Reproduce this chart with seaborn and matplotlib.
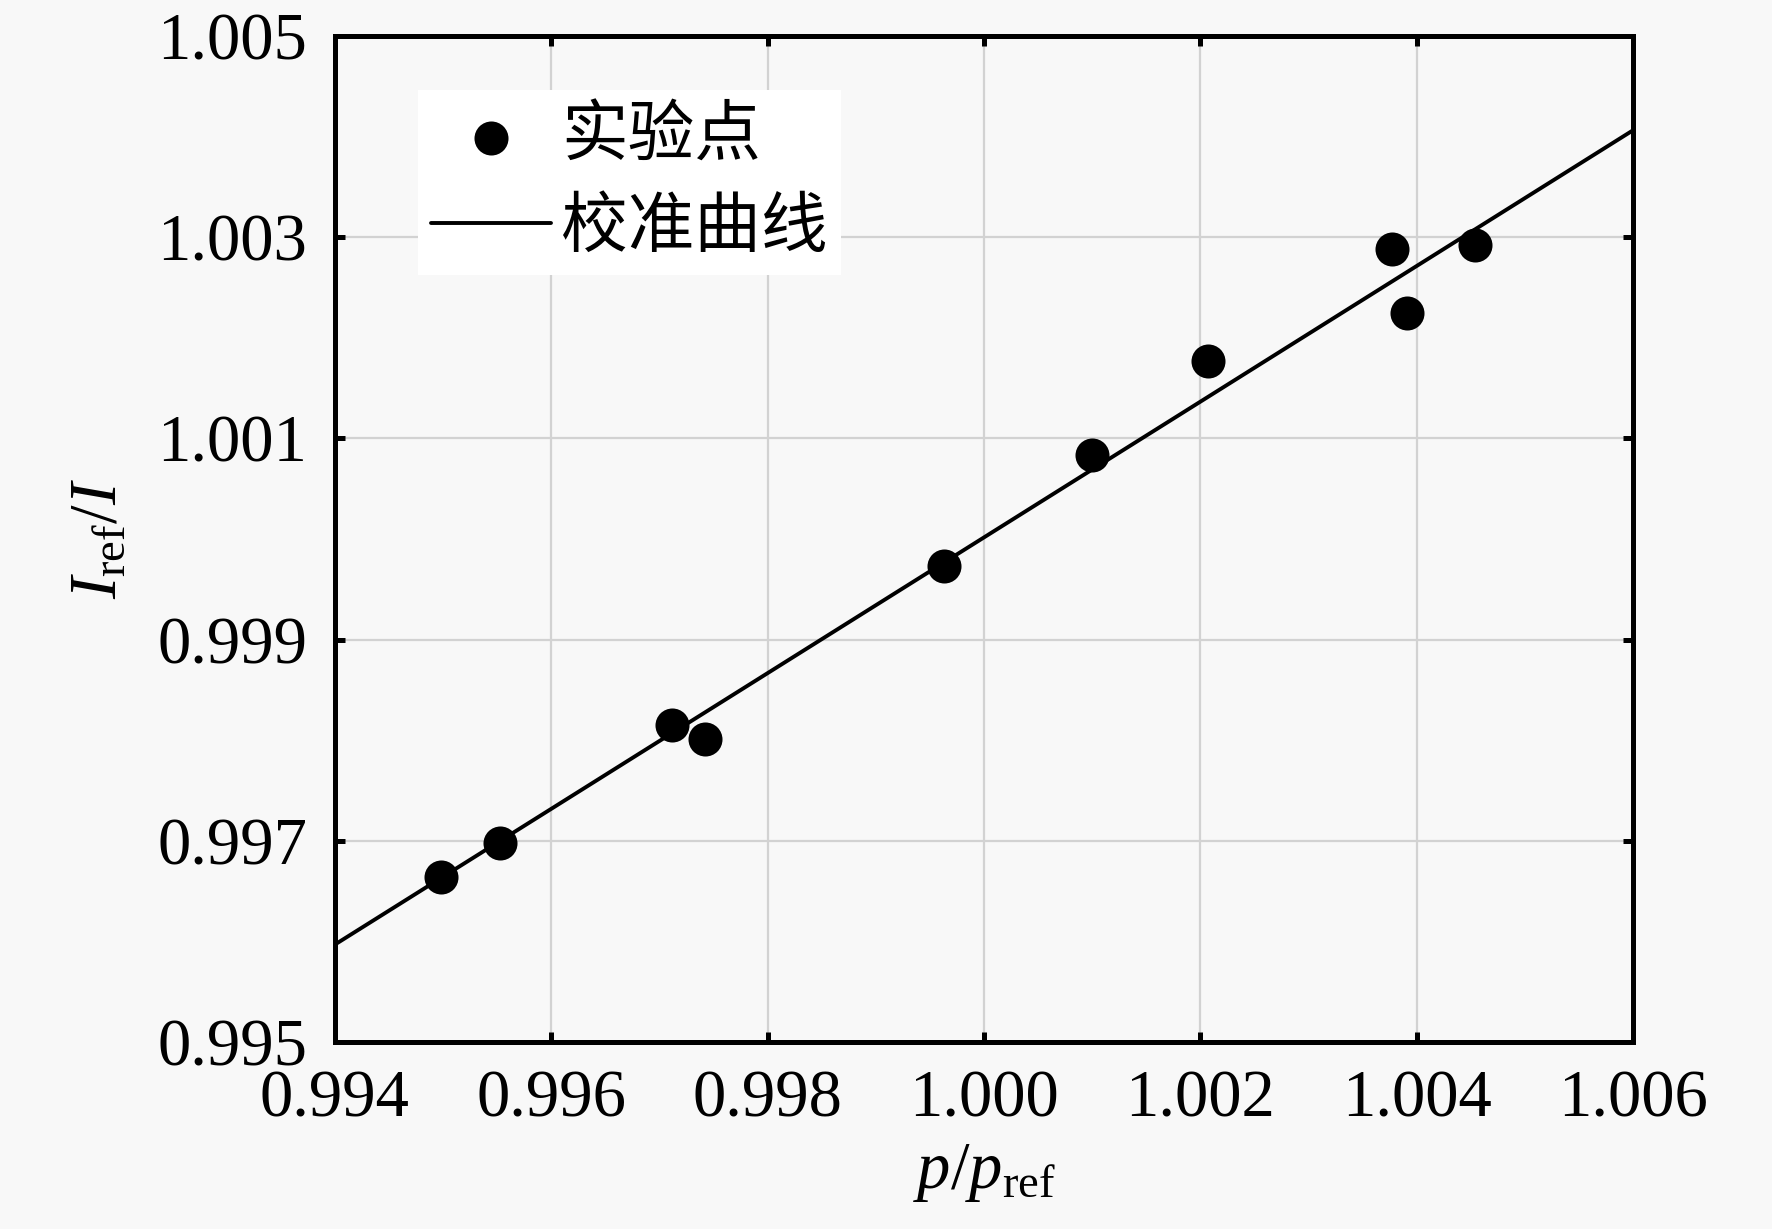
import numpy as np
import pandas as pd
import matplotlib
matplotlib.use("Agg")
import matplotlib.pyplot as plt
import seaborn as sns

# Calibration of I_ref/I against p/p_ref: measured points and fitted line.
p_ratio = [0.99498, 0.99553, 0.99712, 0.99742, 0.99963,
           1.00100, 1.00207, 1.00377, 1.00391, 1.00454]
i_ratio = [0.99664, 0.99698, 0.99815, 0.99801, 0.99973,
           1.00083, 1.00177, 1.00288, 1.00224, 1.00292]

fit_x = [0.994, 1.006]
fit_y = [0.99597, 1.00406]

x_ticks = [0.994, 0.996, 0.998, 1.000, 1.002, 1.004, 1.006]
y_ticks = [0.995, 0.997, 0.999, 1.001, 1.003, 1.005]

pts = pd.DataFrame({"p": p_ratio, "I": i_ratio})
fit = pd.DataFrame({"p": fit_x, "I": fit_y})

sns.set_style("whitegrid")
bg = "#f8f8f8"
plt.rcParams["font.family"] = ["Liberation Serif", "Noto Sans CJK SC", "DejaVu Sans"]
plt.rcParams["mathtext.fontset"] = "custom"
plt.rcParams["mathtext.rm"] = "Liberation Serif"
plt.rcParams["mathtext.it"] = "Liberation Serif:italic"
for k in ["text.color", "axes.labelcolor", "xtick.color", "ytick.color"]:
    plt.rcParams[k] = "black"

fig = plt.figure(figsize=(8.86, 6.145), dpi=200, facecolor=bg)
ax = fig.add_axes([0.189, 0.152, 0.7326, 0.819])
ax.set_facecolor(bg)

sns.lineplot(data=fit, x="p", y="I", color="black", linewidth=1.4,
             label="校准曲线", ax=ax)
sns.scatterplot(data=pts, x="p", y="I", color="black", s=150,
                edgecolor="black", linewidth=0, label="实验点", ax=ax, zorder=3)

ax.set_xlim(0.994, 1.006)
ax.set_ylim(0.995, 1.005)
ax.set_xticks(x_ticks)
ax.set_yticks(y_ticks)
ax.set_xticklabels([f"{v:.3f}" for v in x_ticks])
ax.set_yticklabels([f"{v:.3f}" for v in y_ticks])
ax.tick_params(direction="in", length=3.6, width=1.8, labelsize=24,
               top=True, right=True, bottom=True, left=True, pad=10)
ax.grid(True, color="#d2d2d2", linewidth=0.8)
for s in ax.spines.values():
    s.set_color("black")
    s.set_linewidth(1.8)

ax.set_xlabel(r"$p/p_{\mathrm{ref}}$", fontsize=24, labelpad=4)
ax.set_ylabel(r"$I_{\mathrm{ref}}/I$", fontsize=24, labelpad=10)

handles, labels = ax.get_legend_handles_labels()
order = [labels.index("实验点"), labels.index("校准曲线")]
leg = ax.legend([handles[i] for i in order], [labels[i] for i in order],
                loc="upper left", bbox_to_anchor=(0.064, 0.946),
                frameon=True, facecolor="white", edgecolor="none",
                framealpha=1, fancybox=False,
                prop={"family": ["Noto Sans CJK SC"], "size": 24},
                handlelength=1.8, handletextpad=0.15, labelspacing=0.35,
                borderpad=0.2, borderaxespad=0)

fig.savefig("out.png", dpi=200, facecolor=bg)
